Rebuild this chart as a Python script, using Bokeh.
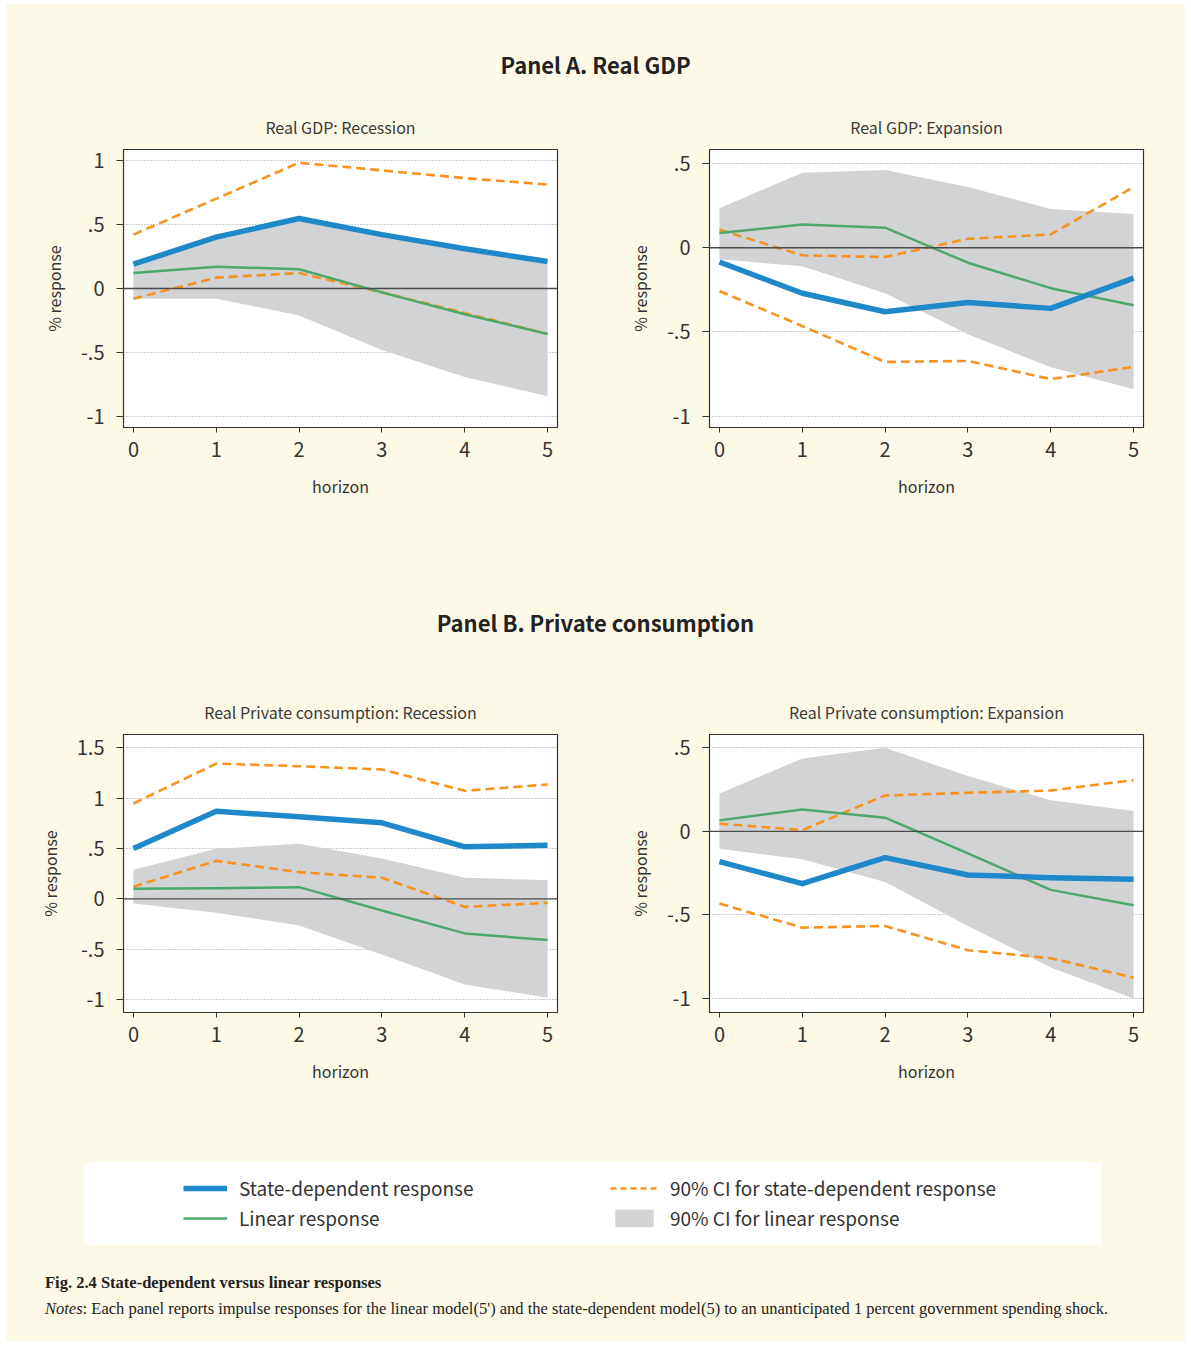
from bokeh.plotting import figure
from bokeh.models import ColumnDataSource, FixedTicker, Span, Div, Spacer, Legend, LegendItem, Range1d
from bokeh.layouts import column, row
from bokeh.embed import file_html
from bokeh.resources import INLINE

# ---------------- data ----------------
horizon = [0, 1, 2, 3, 4, 5]
x_ticks = [0, 1, 2, 3, 4, 5]

# Panel A, Real GDP: Recession
gdp_rec_state = [0.19, 0.40, 0.545, 0.42, 0.31, 0.21]
gdp_rec_state_hi = [0.42, 0.70, 0.98, 0.92, 0.86, 0.81]
gdp_rec_state_lo = [-0.08, 0.085, 0.12, -0.03, -0.19, -0.355]
gdp_rec_linear = [0.12, 0.17, 0.15, -0.03, -0.20, -0.355]
gdp_rec_linear_hi = [0.17, 0.38, 0.53, 0.40, 0.29, 0.19]
gdp_rec_linear_lo = [-0.08, -0.08, -0.21, -0.48, -0.69, -0.84]

# Panel A, Real GDP: Expansion
gdp_exp_state = [-0.085, -0.27, -0.38, -0.325, -0.36, -0.18]
gdp_exp_state_hi = [0.107, -0.045, -0.055, 0.053, 0.079, 0.36]
gdp_exp_state_lo = [-0.257, -0.465, -0.678, -0.672, -0.78, -0.707]
gdp_exp_linear = [0.087, 0.138, 0.119, -0.089, -0.24, -0.342]
gdp_exp_linear_hi = [0.235, 0.445, 0.462, 0.36, 0.23, 0.20]
gdp_exp_linear_lo = [-0.069, -0.11, -0.27, -0.514, -0.71, -0.84]

# Panel B, Real Private consumption: Recession
pc_rec_state = [0.50, 0.87, 0.815, 0.755, 0.517, 0.533]
pc_rec_state_hi = [0.947, 1.344, 1.318, 1.285, 1.073, 1.136]
pc_rec_state_lo = [0.12, 0.377, 0.265, 0.209, -0.08, -0.04]
pc_rec_linear = [0.10, 0.106, 0.116, -0.116, -0.344, -0.41]
pc_rec_linear_hi = [0.29, 0.497, 0.546, 0.40, 0.209, 0.185]
pc_rec_linear_lo = [-0.046, -0.139, -0.265, -0.553, -0.851, -0.983]

# Panel B, Real Private consumption: Expansion
pc_exp_state = [-0.181, -0.313, -0.157, -0.261, -0.277, -0.287]
pc_exp_state_hi = [0.046, 0.008, 0.215, 0.231, 0.245, 0.307]
pc_exp_state_lo = [-0.432, -0.576, -0.566, -0.711, -0.759, -0.875]
pc_exp_linear = [0.066, 0.131, 0.082, -0.131, -0.35, -0.442]
pc_exp_linear_hi = [0.227, 0.436, 0.50, 0.331, 0.187, 0.122]
pc_exp_linear_lo = [-0.104, -0.167, -0.303, -0.566, -0.815, -1.0]

ticks_a_rec = [-1.0, -0.5, 0.0, 0.5, 1.0]
labels_a_rec = ["-1", "-.5", "0", ".5", "1"]
ticks_a_exp = [-1.0, -0.5, 0.0, 0.5]
labels_a_exp = ["-1", "-.5", "0", ".5"]
ticks_b_rec = [-1.0, -0.5, 0.0, 0.5, 1.0, 1.5]
labels_b_rec = ["-1", "-.5", "0", ".5", "1", "1.5"]
ticks_b_exp = [-1.0, -0.5, 0.0, 0.5]
labels_b_exp = ["-1", "-.5", "0", ".5"]

legend_labels = ["State-dependent response", "Linear response",
                 "90% CI for state-dependent response", "90% CI for linear response"]

# ---------------- style ----------------
CREAM = "#fdf9e7"
BLUE = "#1f88c9"
GREEN = "#4ea76d"
ORANGE = "#f7931e"
GRAY = "#d1d3d5"
DARK = "#333333"
FONT = "Noto Sans CJK KR"
TOTAL_W = 1179


def make_panel(title, ticks, labels, yr, data, left_side, top_border, bottom_border):
    state, state_hi, state_lo, lin, lin_hi, lin_lo = data
    src = ColumnDataSource(dict(h=horizon, s=state, shi=state_hi, slo=state_lo,
                                l=lin, lhi=lin_hi, llo=lin_lo))
    p = figure(frame_width=434, frame_height=278,
               min_border_left=117 if left_side else 114,
               min_border_right=38 if left_side else 42,
               min_border_top=top_border, min_border_bottom=bottom_border,
               x_range=Range1d(-0.12, 5.12), y_range=Range1d(*yr),
               output_backend="svg", toolbar_location=None,
               background_fill_color="white", border_fill_color=CREAM,
               outline_line_color=DARK, outline_line_width=1.2)
    p.title.text = title
    p.title.align = "center"
    p.title.text_font = FONT
    p.title.text_font_size = "16px"
    p.title.text_font_style = "normal"
    p.title.text_color = "#3a3a3a"
    p.title.standoff = 22

    p.xaxis.ticker = FixedTicker(ticks=x_ticks)
    p.yaxis.ticker = FixedTicker(ticks=ticks)
    p.yaxis.major_label_overrides = {t: lab for t, lab in zip(ticks, labels)}
    for ax in (p.xaxis[0], p.yaxis[0]):
        ax.axis_line_color = DARK
        ax.major_tick_line_color = DARK
        ax.minor_tick_line_color = None
        ax.major_tick_in = 0
        ax.major_label_text_font = FONT
        ax.major_label_text_font_size = "20px"
        ax.major_label_text_color = DARK
        ax.axis_label_text_font = FONT
        ax.axis_label_text_font_size = "16px"
        ax.axis_label_text_font_style = "normal"
        ax.axis_label_text_color = DARK
    p.xaxis.major_tick_out = 5
    p.yaxis.major_tick_out = 7
    p.xaxis.major_label_standoff = 9
    p.yaxis.major_label_standoff = 12
    p.xaxis.axis_label = "horizon"
    p.yaxis.axis_label = "% response"
    p.xaxis.axis_label_standoff = 14
    p.yaxis.axis_label_standoff = 12

    p.xgrid.visible = False
    p.ygrid.grid_line_color = "#9a9a9a"
    p.ygrid.grid_line_dash = "1 2"
    p.ygrid.grid_line_width = 1

    p.varea(x="h", y1="llo", y2="lhi", source=src, fill_color=GRAY)
    p.add_layout(Span(location=0, dimension="width", line_color="#4a4a4a", line_width=1.3))
    p.line(x="h", y="shi", source=src, line_color=ORANGE, line_width=2.6, line_dash="9 5")
    p.line(x="h", y="slo", source=src, line_color=ORANGE, line_width=2.6, line_dash="9 5")
    p.line(x="h", y="l", source=src, line_color=GREEN, line_width=2.5, line_join="round")
    p.line(x="h", y="s", source=src, line_color=BLUE, line_width=5.5, line_join="round")
    return p


def title_div(text, height, pad):
    html = ('<div style="width:%dpx;padding-top:%dpx;text-align:center;font-family:\'%s\',sans-serif;'
            'font-weight:bold;font-size:22px;line-height:28px;color:#222;">%s</div>') % (TOTAL_W, pad, FONT, text)
    return Div(text=html, width=TOTAL_W, height=height, margin=0,
               styles={"text-align": "center"})


pA1 = make_panel("Real GDP: Recession", ticks_a_rec, labels_a_rec, (-1.083, 1.083),
                 (gdp_rec_state, gdp_rec_state_hi, gdp_rec_state_lo,
                  gdp_rec_linear, gdp_rec_linear_hi, gdp_rec_linear_lo), True, 49, 80)
pA2 = make_panel("Real GDP: Expansion", ticks_a_exp, labels_a_exp, (-1.067, 0.583),
                 (gdp_exp_state, gdp_exp_state_hi, gdp_exp_state_lo,
                  gdp_exp_linear, gdp_exp_linear_hi, gdp_exp_linear_lo), False, 49, 80)
pB1 = make_panel("Real Private consumption: Recession", ticks_b_rec, labels_b_rec, (-1.13, 1.633),
                 (pc_rec_state, pc_rec_state_hi, pc_rec_state_lo,
                  pc_rec_linear, pc_rec_linear_hi, pc_rec_linear_lo), True, 50, 88)
pB2 = make_panel("Real Private consumption: Expansion", ticks_b_exp, labels_b_exp, (-1.084, 0.58),
                 (pc_exp_state, pc_exp_state_hi, pc_exp_state_lo,
                  pc_exp_linear, pc_exp_linear_hi, pc_exp_linear_lo), False, 50, 88)

# ---------------- legend box ----------------
lf = figure(width=1017, height=83, min_border=0, x_range=Range1d(0, 1), y_range=Range1d(0, 1),
            x_axis_location=None, y_axis_location=None,
            output_backend="svg", toolbar_location=None,
            background_fill_color="white", border_fill_color="white", outline_line_color=None)
lf.grid.visible = False
# legend-key renderers: off-screen, only their legend keys are visible
r_state = lf.line(x=[-5, -4], y=[-5, -5], line_color=BLUE, line_width=5.5)
r_lin = lf.line(x=[-5, -4], y=[-5, -5], line_color=GREEN, line_width=2.5)
r_ci_s = lf.line(x=[-5, -4], y=[-5, -5], line_color=ORANGE, line_width=2.6, line_dash="6 4")
r_ci_l = lf.quad(left=[-5], right=[-4], top=[-4], bottom=[-5], fill_color=GRAY, line_color=None)


def make_legend(items, loc, gw):
    lg = Legend(items=items, location=loc, orientation="vertical",
                border_line_color=None, background_fill_alpha=0,
                padding=0, margin=0, spacing=3, glyph_width=gw, glyph_height=22,
                label_height=22, label_standoff=12,
                label_text_font=FONT, label_text_font_size="19px", label_text_color=DARK)
    lf.add_layout(lg, "center")


make_legend([LegendItem(label=legend_labels[0], renderers=[r_state]),
             LegendItem(label=legend_labels[1], renderers=[r_lin])], (99, 14), 44)
make_legend([LegendItem(label=legend_labels[2], renderers=[r_ci_s]),
             LegendItem(label=legend_labels[3], renderers=[r_ci_l])], (526, 14), 48)

caption_html = (
    '<div style="padding-top:25px;padding-left:39px;font-family:\'Liberation Serif\',\'Times New Roman\',serif;'
    'color:#222;font-size:16.5px;line-height:26px;white-space:nowrap;">'
    '<div style="font-weight:bold;">Fig. 2.4 State-dependent versus linear responses</div>'
    '<div><i>Notes</i>: Each panel reports impulse responses for the linear model(5\') and the '
    'state-dependent model(5) to an unanticipated 1 percent government spending shock.</div></div>')
caption = Div(text=caption_html, width=TOTAL_W, height=96, margin=0)

layout = column(
    title_div("Panel A. Real GDP", 96, 46),
    row(pA1, pA2, spacing=0),
    title_div("Panel B. Private consumption", 177, 101),
    row(pB1, pB2, spacing=0),
    Spacer(width=TOTAL_W, height=62),
    row(Spacer(width=78, height=83), lf, Spacer(width=84, height=83), spacing=0),
    caption,
    spacing=0,
    margin=(4, 0, 0, 6),
    styles={"background-color": CREAM},
)

open("out.html", "w").write(file_html(layout, INLINE))
